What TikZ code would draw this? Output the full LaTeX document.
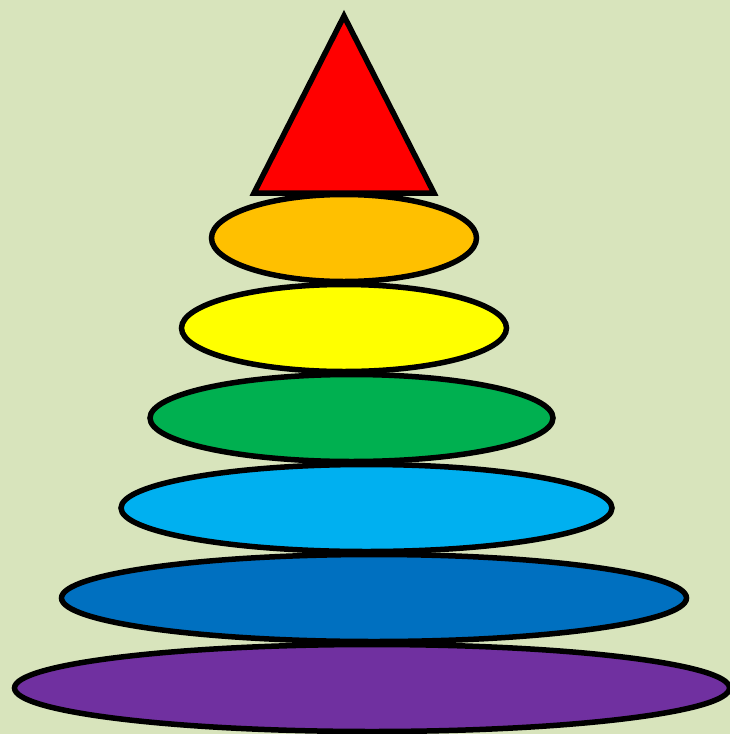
\documentclass[tikz,border=0pt]{standalone}
\begin{document}
\begin{tikzpicture}[x=1pt,y=-1pt,
  piece/.style={draw=black,line width=5.5pt,line join=miter}]
\definecolor{bg}{HTML}{D8E4BC}
\definecolor{cred}{HTML}{FF0000}
\definecolor{corange}{HTML}{FFC000}
\definecolor{cyellow}{HTML}{FFFF00}
\definecolor{cgreen}{HTML}{00B050}
\definecolor{clblue}{HTML}{00B0F0}
\definecolor{cblue}{HTML}{0070C0}
\definecolor{cpurple}{HTML}{7030A0}
\useasboundingbox (0,0) rectangle (730,734);
\fill[bg] (0,0) rectangle (730,734);
\begin{scope}
\clip (0,0) rectangle (730,734);
\draw[piece,fill=cred] (344,16) -- (434,193) -- (254,193) -- cycle;
\draw[piece,fill=corange] (344,238) ellipse [x radius=132.5, y radius=43.5];
\draw[piece,fill=cyellow] (344,328) ellipse [x radius=162.5, y radius=43.5];
\draw[piece,fill=cgreen] (351.5,418) ellipse [x radius=201.5, y radius=43.5];
\draw[piece,fill=clblue] (366.5,508) ellipse [x radius=245.5, y radius=43.5];
\draw[piece,fill=cblue] (374,598) ellipse [x radius=312.5, y radius=43.5];
\draw[piece,fill=cpurple] (372,688) ellipse [x radius=357.5, y radius=43.5];
\end{scope}
\end{tikzpicture}
\end{document}
